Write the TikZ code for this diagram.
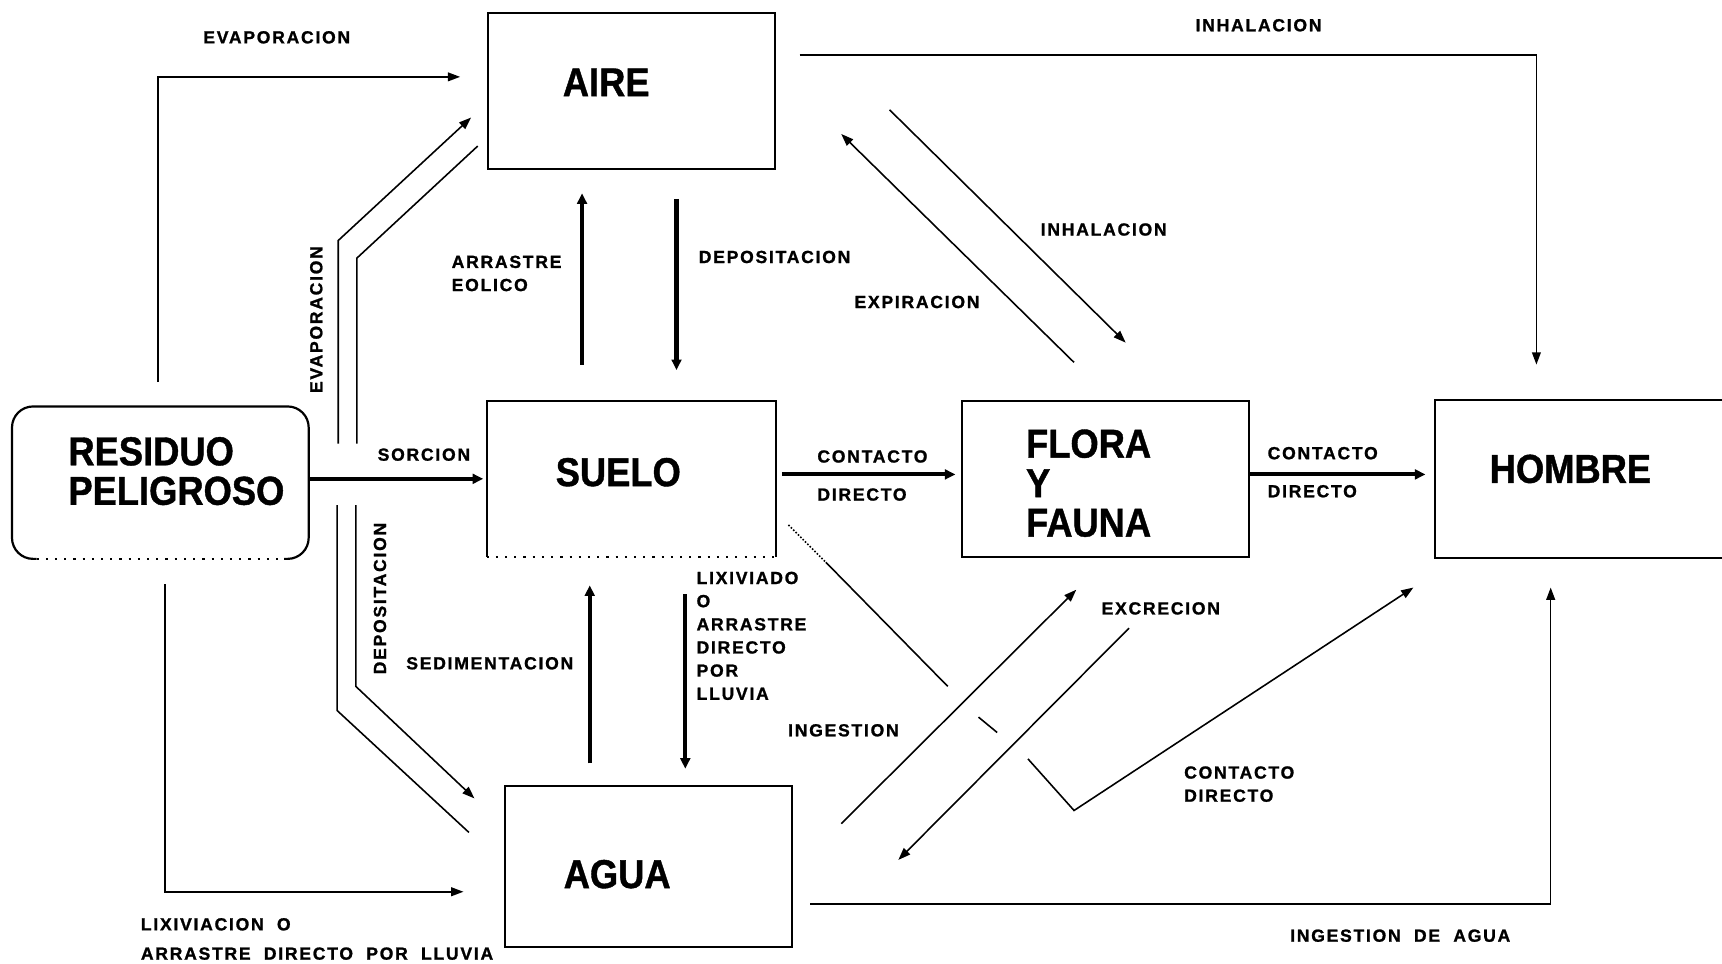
\documentclass[tikz,border=0pt]{standalone}
\usepackage{fontspec}
\setmainfont{Liberation Sans}
\newfontfamily\cajafont{Liberation Sans}[FakeStretch=0.9,BoldFeatures={FakeBold=1}]
\newfontfamily\rotulofont{Liberation Sans}[LetterSpace=10,BoldFeatures={FakeBold=1.2}]
\usetikzlibrary{arrows.meta,positioning}

\begin{document}
\begin{tikzpicture}[x=0.022cm,y=-0.022cm,
    caja/.style={draw,line width=1.25pt,inner sep=0pt,minimum width=5.76cm,minimum height=3.12cm},
    borde/.style={line width=1.25pt},
    titulo/.style={font=\cajafont\bfseries\fontsize{23}{22.5}\selectfont,inner sep=0pt,align=left},
    rotulo/.style={font=\rotulofont\bfseries\fontsize{10}{13.2}\selectfont,inner sep=0pt,align=left},
    linea/.style={line width=0.9pt},
    flujo/.style={linea,-{Triangle[length=7pt,width=5pt]}},
    flujofuerte/.style={line width=2.3pt,-{Triangle[length=6pt,width=5.5pt]}}]
  \useasboundingbox (0,0) rectangle (1568,877);

  % Compartimentos
  \node[caja] (aire) at (575,83) {};
  \node[caja,draw=none,minimum height=3.08cm] (suelo) at (575,436) {};
  \draw[borde] (suelo.south west) -- (suelo.north west) -- (suelo.north east) -- (suelo.south east);
  \draw[borde,loosely dotted] (suelo.south west) -- (suelo.south east);
  \node[caja,draw=none,minimum width=5.9cm,minimum height=3.01cm] (residuo) at (146,439.5) {};
  \draw[borde,rounded corners=12pt] ([xshift=14pt]residuo.south west) -- (residuo.south west)
    -- (residuo.north west) -- (residuo.north east) -- (residuo.south east) -- ([xshift=-14pt]residuo.south east);
  \draw[borde,loosely dotted] ([xshift=14pt]residuo.south west) -- ([xshift=-14pt]residuo.south east);
  \node[caja] (flora) at (1006.5,436) {};
  \node[caja,draw=none,minimum width=5.72cm] (hombre) at (1438,436) {};
  \draw[borde] (hombre.north east) -- (hombre.north west) -- (hombre.south west) -- (hombre.south east);
  \node[caja,minimum height=3.21cm] (agua) at (590.5,789) {};

  % Nombres de los compartimentos
  \node[titulo] (aireT) at (552,75) {AIRE};
  \node[titulo] (sueloT) at (563,430) {SUELO};
  \node[titulo] (aguaT) at (562,796) {AGUA};
  \node[titulo] (hombreT) at (1430,427) {HOMBRE};
  \node[titulo,anchor=west] (residuoT) at (62,429) {RESIDUO\\PELIGROSO};
  \node[titulo,anchor=west] (floraT) at (934,440) {FLORA\\Y\\FAUNA};

  % Evaporacion
  \coordinate (evA) at (144,348);
  \coordinate (evB) at (419,70);
  \draw[flujo] (evA) |- (evB);
  \node[rotulo] (evapT) at (252,34) {EVAPORACION};
  \coordinate (evo1) at (308,404); \coordinate (evo2) at (308,219); \coordinate (evo3) at (429,107);
  \coordinate (evi1) at (325,404); \coordinate (evi2) at (325,235); \coordinate (evi3) at (435,133);
  \draw[flujo] (evo1) -- (evo2) -- (evo3);
  \draw[linea] (evi1) -- (evi2) -- (evi3);
  \node[rotulo,rotate=90] (evapV) at (288,291) {EVAPORACION};

  % Sorcion
  \coordinate (sorc) at (440,436);
  \draw[flujofuerte] (residuo.east |- sorc) -- (sorc);
  \node[rotulo] (sorcT) at (386,414) {SORCION};

  % Depositacion hacia el agua
  \coordinate (dpo1) at (307,460); \coordinate (dpo2) at (307,647); \coordinate (dpo3) at (427,758);
  \coordinate (dpi1) at (324,460); \coordinate (dpi2) at (324,625); \coordinate (dpi3) at (432,727);
  \draw[linea] (dpo1) -- (dpo2) -- (dpo3);
  \draw[flujo] (dpi1) -- (dpi2) -- (dpi3);
  \node[rotulo,rotate=90] (depoV) at (346,545) {DEPOSITACION};

  % Lixiviacion directa
  \coordinate (lxA) at (150,532);
  \coordinate (lxB) at (422,812);
  \draw[flujo] (lxA) |- (lxB);
  \node[rotulo,anchor=west] (lxT) at (128,855) {LIXIVIACION\ \ O\\[3.5pt]ARRASTRE\ \ DIRECTO\ \ POR\ \ LLUVIA};

  % Aire <-> suelo
  \coordinate (arA) at (530,332); \coordinate (arB) at (530,176);
  \draw[flujofuerte] (arA) -- (arB);
  \node[rotulo,anchor=west] (arT) at (411,249) {ARRASTRE\\EOLICO};
  \coordinate (dsA) at (616,181); \coordinate (dsB) at (616,337);
  \draw[flujofuerte] (dsA) -- (dsB);
  \node[rotulo,anchor=west] (dsT) at (636,234) {DEPOSITACION};

  % Suelo <-> agua
  \coordinate (sdA) at (537,695); \coordinate (sdB) at (537,533);
  \draw[flujofuerte] (sdA) -- (sdB);
  \node[rotulo] (sdT) at (446,604) {SEDIMENTACION};
  \coordinate (lvA) at (624,541); \coordinate (lvB) at (624,700);
  \draw[flujofuerte] (lvA) -- (lvB);
  \node[rotulo,anchor=west] (lvT) at (634,579) {LIXIVIADO\\O\\ARRASTRE\\DIRECTO\\POR\\LLUVIA};

  % Contacto directo
  \coordinate (c1A) at (712,432); \coordinate (c1B) at (870,432);
  \draw[flujofuerte] (c1A) -- (c1B);
  \node[rotulo,anchor=west] (c1T) at (744,433) {CONTACTO\\[8.5pt]DIRECTO};
  \coordinate (c2B) at (1298,432);
  \draw[flujofuerte] (flora.east |- c2B) -- (c2B);
  \node[rotulo,anchor=west] (c2T) at (1154,430) {CONTACTO\\[8.5pt]DIRECTO};

  % Aire <-> flora y fauna, hombre
  \coordinate (ihA) at (728,50); \coordinate (ihB) at (1399,332);
  \draw[flujo] (ihA) -| (ihB);
  \node[rotulo] (ihT) at (1146,23) {INHALACION};
  \coordinate (exA) at (978,330); \coordinate (exB) at (766,122);
  \draw[flujo] (exA) -- (exB);
  \node[rotulo] (exT) at (835,275) {EXPIRACION};
  \coordinate (idA) at (810,100); \coordinate (idB) at (1025,312);
  \draw[flujo] (idA) -- (idB);
  \node[rotulo] (idT) at (1005,209) {INHALACION};

  % Agua <-> flora y fauna
  \coordinate (inA) at (766,750); \coordinate (inB) at (980,537);
  \draw[flujo] (inA) -- (inB);
  \node[rotulo] (inT) at (768,665) {INGESTION};
  \coordinate (xcA) at (1028,572); \coordinate (xcB) at (818,783);
  \draw[flujo] (xcA) -- (xcB);
  \node[rotulo] (xcT) at (1057,554) {EXCRECION};

  % Suelo -> hombre, con saltos en los cruces
  \coordinate (shA) at (718,478); \coordinate (shB) at (752,512);
  \coordinate (shC) at (863,625); \coordinate (shD) at (891,653);
  \coordinate (shE) at (908,667); \coordinate (shF) at (936,691);
  \coordinate (shG) at (978,738); \coordinate (shH) at (1287,535);
  \draw[linea,densely dotted] (shA) -- (shB);
  \draw[linea] (shB) -- (shC);
  \draw[linea] (shD) -- (shE);
  \draw[flujo] (shF) -- (shG) -- (shH);
  \node[rotulo,anchor=west] (shT) at (1078,714) {CONTACTO\\DIRECTO};

  % Ingestion de agua
  \coordinate (iaA) at (738,823); \coordinate (iaB) at (1412,535);
  \draw[flujo] (iaA) -| (iaB);
  \node[rotulo] (iaT) at (1275,852) {INGESTION\ \ DE\ \ AGUA};
\end{tikzpicture}
\end{document}
